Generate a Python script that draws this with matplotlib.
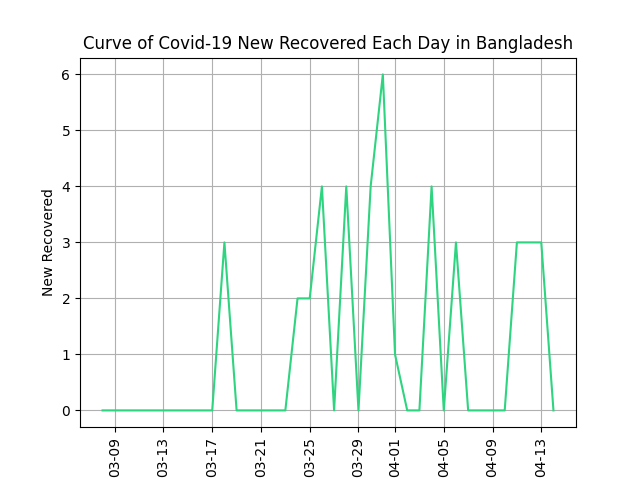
import numpy as np
import pandas as pd
import matplotlib
matplotlib.use("Agg")
import matplotlib.pyplot as plt
import matplotlib.dates as mdates

dates = pd.date_range("2020-03-08", "2020-04-14", freq="D")
new_recovered = [0, 0, 0, 0, 0, 0, 0, 0, 0, 0,
                 3, 0, 0, 0, 0, 0, 2, 2, 4, 0,
                 4, 0, 4, 6, 1, 0, 0, 4, 0, 3,
                 0, 0, 0, 0, 3, 3, 3, 0]

fig, ax = plt.subplots(figsize=(6.4, 4.8), dpi=100)
ax.plot(dates, new_recovered, color="#2ed47f")
ax.set_title("Curve of Covid-19 New Recovered Each Day in Bangladesh")
ax.set_ylabel("New Recovered")
ax.xaxis.set_major_locator(mdates.DayLocator(bymonthday=[1, 5, 9, 13, 17, 21, 25, 29]))
ax.xaxis.set_major_formatter(mdates.DateFormatter("%m-%d"))
plt.xticks(rotation=90)
ax.grid(True)
fig.savefig("out.png")
